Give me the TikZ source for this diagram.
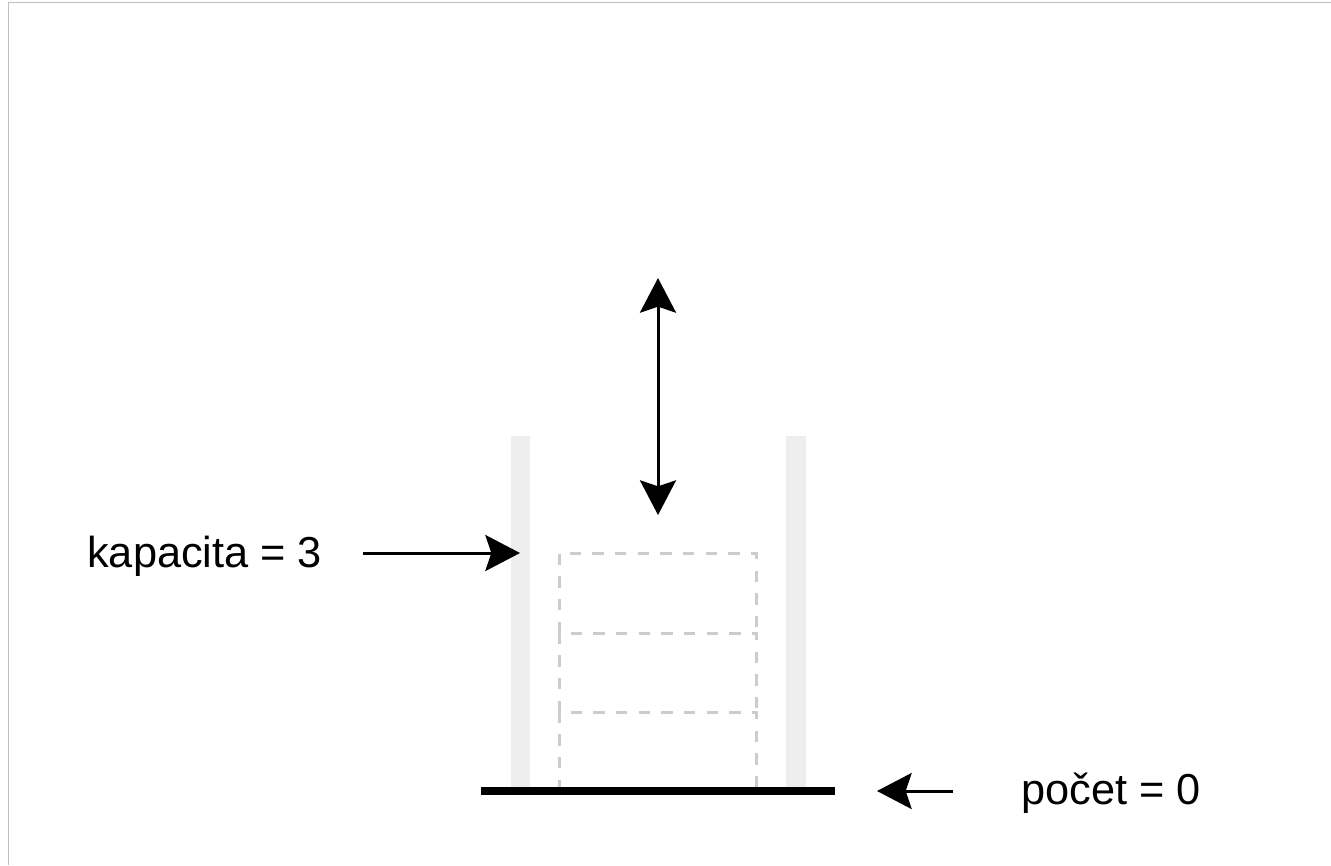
\documentclass[tikz,border=0pt]{standalone}
\usepackage{fontspec}
\setmainfont{Liberation Sans}
\usetikzlibrary{arrows.meta}
\definecolor{wallgray}{HTML}{EEEEEE}
\definecolor{slotgray}{HTML}{CCCCCC}
\definecolor{framegray}{HTML}{BFBFBF}

\begin{document}
\begin{tikzpicture}[x=0.75pt,y=-0.75pt,
  lbl/.style={font=\fontsize{32.5}{39}\selectfont, inner sep=0pt},
  tip/.tip={Stealth[length=26pt,width=27pt,inset=4.5pt]},
  ptr/.style={line width=2.25pt, -tip},
  dptr/.style={line width=2.25pt, tip-tip},
  slotbox/.style={draw=slotgray, line width=2.25pt, dash pattern=on 8.5pt off 8.5pt}]
\useasboundingbox (0,0) rectangle (1331,865);
\draw[framegray, line width=1pt] (1331,2.5)--(8.5,2.5)--(8.5,865);

% walls and floor
\fill[wallgray] (511,436) rectangle (530,788);
\fill[wallgray] (786,436) rectangle (806,788);
\foreach \i/\top/\bot in {1/553/633, 2/633/712, 3/712/791}
  \draw[slotbox] (559,\bot)--(559,\top)--(756,\top)--(756,\bot) node[coordinate] (slot\i) {};
\draw[line width=6pt] (481,791)--(835,791);

\node[lbl, anchor=base west] (cap) at (87,567) {kapacita = 3};
\node[lbl, anchor=base west] (cnt) at (1021,804) {počet = 0};

\coordinate (capfrom) at (363,553);
\coordinate (captip) at (520,553);
\coordinate (cntfrom) at (953,791);
\coordinate (cnttip) at (877,791);
\coordinate (pushend) at (658,515);
\coordinate (popend) at (658,278);

\draw[ptr] (capfrom)--(captip);
\draw[ptr] (cntfrom)--(cnttip);
\draw[dptr] (pushend)--(popend);
\end{tikzpicture}
\end{document}
